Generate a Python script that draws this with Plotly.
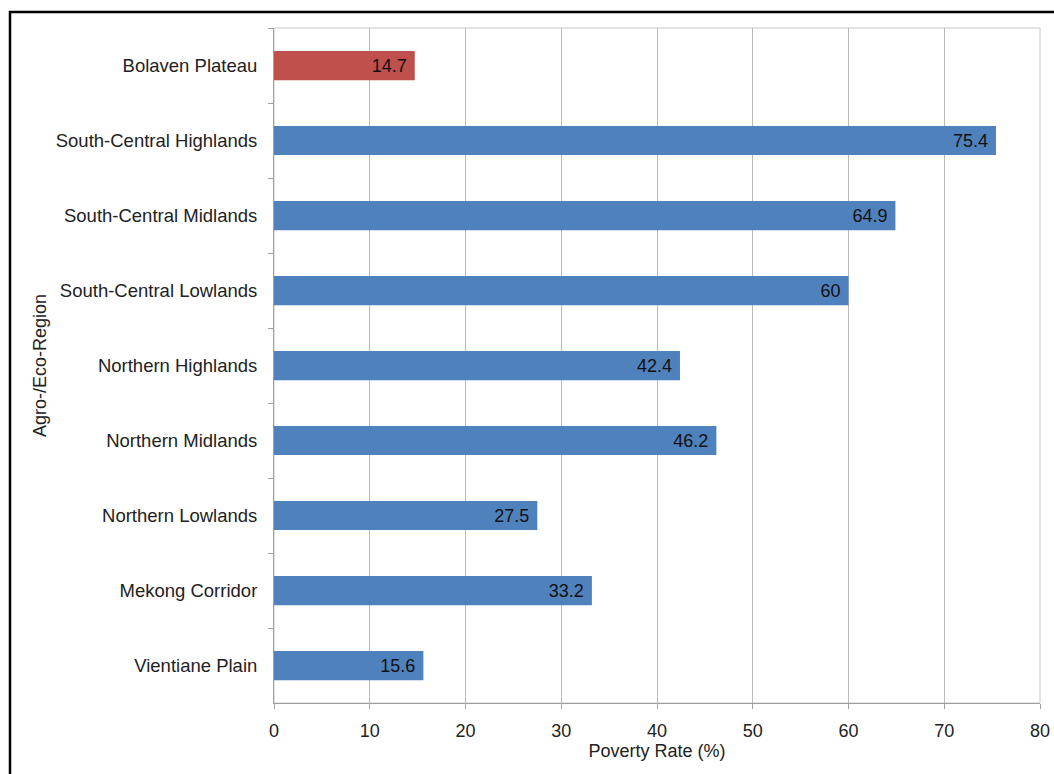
import plotly.graph_objects as go

regions = ["Bolaven Plateau", "South-Central Highlands", "South-Central Midlands",
           "South-Central Lowlands", "Northern Highlands", "Northern Midlands",
           "Northern Lowlands", "Mekong Corridor", "Vientiane Plain"]
poverty = [14.7, 75.4, 64.9, 60, 42.4, 46.2, 27.5, 33.2, 15.6]
colors = ["#C0504D"] + ["#4F81BD"] * 8
labels = ["14.7", "75.4", "64.9", "60", "42.4", "46.2", "27.5", "33.2", "15.6"]

W, H = 1054, 774
# plot area in page pixels: x 274..1040, y 28..703
L, T = 274, 28
R = W - 1040
B = H - 703
pw, ph = W - L - R, H - T - B

fig = go.Figure(go.Bar(
    y=regions, x=poverty, orientation="h",
    marker=dict(color=colors, line=dict(width=0)),
    width=0.39,
    text=[t + "\u00a0" for t in labels], textposition="inside", insidetextanchor="end",
    textfont=dict(family="Liberation Sans, Arial", size=18, color="#111111"),
    textangle=0, cliponaxis=False,
))

def px_x(p):
    return (p - L) / pw

def px_y(p):
    return (H - B - p) / ph

fig.update_layout(
    width=W, height=H,
    margin=dict(l=L, r=R, t=T, b=B, autoexpand=False),
    paper_bgcolor="white", plot_bgcolor="white",
    showlegend=False,
    font=dict(family="Liberation Sans, Arial", size=18, color="#222222"),
    xaxis=dict(range=[0, 80], dtick=10, showgrid=True, gridcolor="#BABABA", gridwidth=1,
               showline=True, linecolor="#A0A0A0", ticks="outside", ticklen=5,
               tickcolor="#A0A0A0", zeroline=False, ticklabelstandoff=6, automargin=False,
               tickfont=dict(size=18, color="#222222"),
               title=dict(text="Poverty Rate (%)", font=dict(size=18, color="#222222"), standoff=4)),
    yaxis=dict(autorange="reversed", showline=True, linecolor="#A0A0A0",
               ticks="outside", ticklen=5, tickcolor="#A0A0A0", tickson="boundaries",
               showgrid=False, ticklabelstandoff=12, automargin=False,
               tickfont=dict(size=18.5, color="#222222"),
               title=dict(text="Agro-/Eco-Region", font=dict(size=18, color="#222222"), standoff=4)),
    shapes=[
        dict(type="rect", xref="paper", yref="paper", x0=0, x1=1, y0=0, y1=1,
             line=dict(color="#C8C8C8", width=1), layer="below"),
        dict(type="rect", xref="paper", yref="paper",
             x0=px_x(10), x1=px_x(1070), y0=px_y(12), y1=px_y(800),
             line=dict(color="black", width=2.5)),
    ],
)

fig.write_html("out.html", config={"displayModeBar": False},
               post_script="document.body.style.margin='0';document.body.style.overflow='hidden';")
